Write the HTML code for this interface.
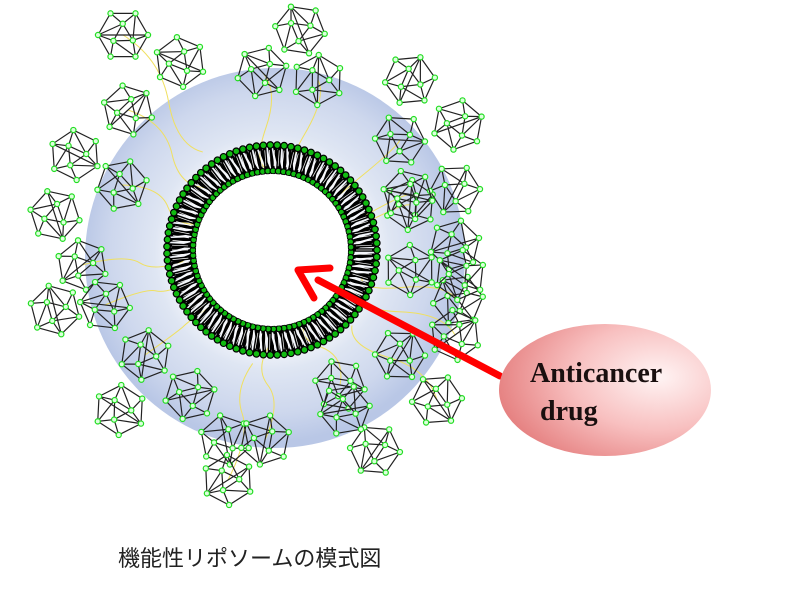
<!DOCTYPE html>
<html><head><meta charset="utf-8"><style>
html,body{margin:0;padding:0;background:#fff;width:800px;height:600px;overflow:hidden}
</style></head><body>
<svg id="s" width="800" height="600" viewBox="0 0 800 600" xmlns="http://www.w3.org/2000/svg">
<defs>
<radialGradient id="bg" cx="272" cy="252" r="190" gradientUnits="userSpaceOnUse">
<stop offset="0.5" stop-color="#f4f6fb"/><stop offset="0.62" stop-color="#dfe6f3"/><stop offset="0.85" stop-color="#cdd7ed"/><stop offset="1" stop-color="#b9c7e6"/></radialGradient>
<radialGradient id="pk" cx="0.75" cy="0.4" r="0.8">
<stop offset="0" stop-color="#fff4f4"/><stop offset="0.5" stop-color="#f8c0c0"/><stop offset="1" stop-color="#e47c7c"/></radialGradient>
</defs>
<circle cx="275" cy="258" r="190" fill="url(#bg)"/>
<g id="yl" fill="none" stroke="#f0e060" stroke-width="1"></g>
<g id="mem"></g>
<circle cx="272" cy="250" r="76" fill="#fff"/>
<g id="ico"></g>
<line x1="500" y1="376" x2="318" y2="280" stroke="#f00" stroke-width="7" stroke-linecap="round"/>
<polyline points="330,268 298,270 314,298" fill="none" stroke="#f00" stroke-width="7" stroke-linecap="round" stroke-linejoin="round"/>
<ellipse cx="605" cy="390" rx="106" ry="66" fill="url(#pk)"/>
<text x="530" y="382" font-family="Liberation Serif,serif" font-weight="bold" font-size="28" fill="#1a0f0f">Anticancer</text>
<text x="540" y="420" font-family="Liberation Serif,serif" font-weight="bold" font-size="28" fill="#1a0f0f">drug</text>
<text x="118" y="566" font-family="Liberation Sans,'Noto Sans CJK JP',sans-serif" font-size="22" fill="#222">機能性リポソームの模式図</text>
</svg>
<script>
var NS="http://www.w3.org/2000/svg";
function el(t,a,p){var e=document.createElementNS(NS,t);for(var k in a)e.setAttribute(k,a[k]);p.appendChild(e);return e;}
var mem=document.getElementById('mem');
for(var i=0;i<130;i++){var a=i/130*Math.PI*2,cx=272,cy=250;
 var c=Math.cos(a),s=Math.sin(a),j=(i%3)*0.04;
 el('line',{x1:cx+Math.cos(a+j)*80,y1:cy+Math.sin(a+j)*80,x2:cx+c*104,y2:cy+s*104,stroke:'#000','stroke-width':3.6},mem);
 el('line',{x1:cx+c*84,y1:cy+s*84,x2:cx+c*100,y2:cy+s*100,stroke:'#fff','stroke-width':0.7},mem);
}
for(var i=0;i<95;i++){var a=i/95*Math.PI*2;
 el('circle',{cx:272+Math.cos(a)*105,cy:250+Math.sin(a)*105,r:3.3,fill:'#1b1',stroke:'#000','stroke-width':1.2},mem);
 el('circle',{cx:272+Math.cos(a+.03)*79,cy:250+Math.sin(a+.03)*79,r:3,fill:'#1b1',stroke:'#000','stroke-width':1.2},mem);}
var P=[[123,35],[180,62],[262,72],[300,30],[318,80],[410,80],[128,110],[458,125],[400,140],[75,155],[122,185],[55,215],[410,205],[455,190],[82,265],[455,245],[105,305],[410,270],[458,300],[55,310],[145,355],[400,355],[455,335],[190,395],[340,385],[120,410],[437,400],[225,440],[265,440],[375,450],[228,480],[345,410],[408,195],[460,275]];
var yl=document.getElementById('yl');
P.forEach(function(p,k){if(k%2)return;var x=p[0],y=p[1];var dx=(275-x)*0.15,dy=(258-y)*0.15;
 var d="M"+x+","+y+" q"+(dx+15)+","+(dy-10)+" "+dx*2+","+dy*2+" t"+dx*1.5+","+dy*1.5;el('path',{d:d},yl);});
var g=document.getElementById('ico');
P.forEach(function(p,k){var r=25,cx=p[0],cy=p[1],rot=k*0.4,o=[],in_=[];
 for(var i=0;i<6;i++){var a=rot+i*Math.PI/3;o.push([cx+r*Math.cos(a),cy+r*Math.sin(a)]);}
 for(var i=0;i<3;i++){var a=rot+0.5+i*2*Math.PI/3;in_.push([cx+r*.45*Math.cos(a),cy+r*.45*Math.sin(a)]);}
 var d="";for(var i=0;i<6;i++){var q=o[(i+1)%6];d+="M"+o[i]+"L"+q;d+="M"+o[i]+"L"+in_[Math.floor(i/2)];d+="M"+o[i]+"L"+in_[Math.floor(((i+1)%6)/2)];}
 d+="M"+in_[0]+"L"+in_[1]+"L"+in_[2]+"Z";d+="M"+o[0]+"L"+o[3];
 el('path',{d:d,fill:'none',stroke:'#222','stroke-width':1.2},g);
 o.concat(in_).forEach(function(v){el('circle',{cx:v[0],cy:v[1],r:2.6,fill:'#dfd',stroke:'#2d2','stroke-width':1.2},g);});
});
</script>
</body></html>
